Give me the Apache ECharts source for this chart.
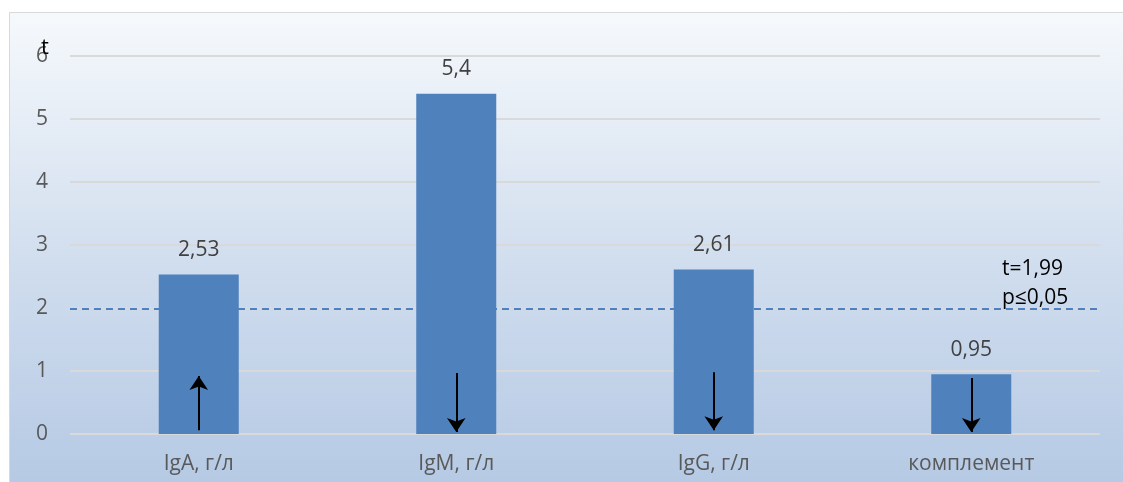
<!DOCTYPE html>
<html>
<head>
<meta charset="utf-8">
<script src="https://cdn.jsdelivr.net/npm/echarts@6/dist/echarts.min.js"></script>
<style>
  html, body { margin: 0; padding: 0; background: #ffffff; }
  #chart { width: 1123px; height: 482px; }
</style>
</head>
<body>
<div id="chart"></div>
<script>
// Categories and t-values
const categories = ['IgA, г/л', 'IgM, г/л', 'IgG, г/л', 'комплемент'];
const tValues = [2.53, 5.4, 2.61, 0.95];
// Critical t value and significance level
const threshold = 1.99;
const pLevel = '0,05';
// Direction arrows drawn inside each bar: start and end value
const arrowFrom = [0.06, 0.97, 0.98, 0.89];
const arrowTo = [0.92, 0.03, 0.06, 0.03];
// Y axis range
const yMin = 0, yMax = 6, yStep = 1;

const fmt = v => String(v).replace('.', ',');
const FONT = 'Open Sans';
const FS = 21;

const chart = echarts.init(document.getElementById('chart'), null, { renderer: 'canvas' });

const arrowLines = categories.map((c, i) => [
  { coord: [c, arrowFrom[i]], symbol: 'none' },
  { coord: [c, arrowTo[i]], symbol: 'arrow' }
]);

chart.setOption({
  animation: false,
  backgroundColor: '#ffffff',
  textStyle: { fontFamily: FONT },
  graphic: [{
    type: 'rect',
    z: -10,
    silent: true,
    shape: { x: 9.5, y: 12.5, width: 1200, height: 500 },
    style: {
      fill: new echarts.graphic.LinearGradient(0, 0, 0, 1, [
        { offset: 0, color: '#f6f9fc' },
        { offset: 0.55, color: '#cddbed' },
        { offset: 1, color: '#b2c7e3' }
      ]),
      stroke: '#d9d9d9',
      lineWidth: 1
    }
  }, {
    type: 'text',
    left: 41,
    top: 37,
    z: 10,
    style: { text: 't', fontFamily: FONT, fontSize: 22, fill: '#000000' }
  }],
  grid: { left: 70, right: 23, top: 56, bottom: 48, containLabel: false },
  xAxis: {
    type: 'category',
    data: categories,
    axisLine: { show: false },
    axisTick: { show: false },
    axisLabel: { color: '#595959', fontSize: FS, margin: 20, fontFamily: FONT }
  },
  yAxis: {
    type: 'value',
    min: yMin,
    max: yMax,
    interval: yStep,
    axisLine: { show: false },
    axisTick: { show: false },
    axisLabel: { color: '#595959', fontSize: FS, margin: 22, fontFamily: FONT },
    splitLine: { lineStyle: { color: '#d9d9d9', width: 2 } }
  },
  series: [{
    type: 'bar',
    data: tValues,
    barWidth: 80,
    itemStyle: { color: '#4f81bd' },
    label: {
      show: true,
      position: 'top',
      distance: 14,
      color: '#404040',
      fontSize: FS,
      fontFamily: FONT,
      formatter: p => fmt(p.value)
    },
    markLine: {
      silent: true,
      symbol: 'none',
      lineStyle: { color: '#4f81bd', type: [7, 5], width: 2 },
      label: {
        show: true,
        position: 'insideEndTop',
        color: '#000000',
        fontSize: FS,
        fontFamily: FONT,
        lineHeight: 29,
        align: 'left',
        offset: [-93, 9],
        formatter: 't=' + fmt(threshold) + '\np≤' + pLevel
      },
      data: [{ yAxis: threshold }]
    }
  }, {
    type: 'line',
    data: [],
    markLine: {
      silent: true,
      symbolSize: 14,
      lineStyle: { color: '#000000', type: 'solid', width: 2 },
      label: { show: false },
      data: arrowLines
    }
  }]
});
</script>
</body>
</html>
